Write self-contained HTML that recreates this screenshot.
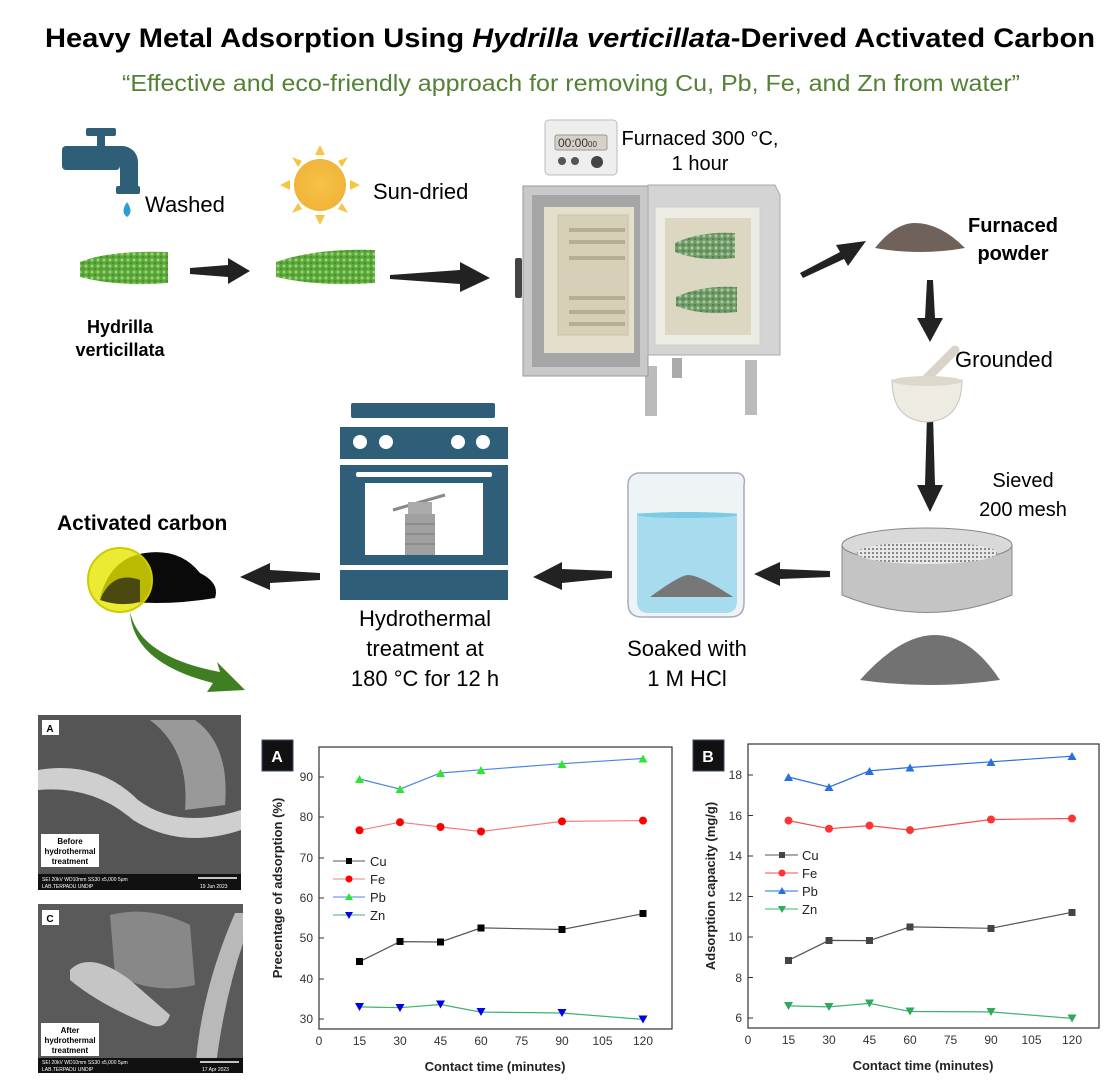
<!DOCTYPE html>
<html><head><meta charset="utf-8"><style>
html,body{margin:0;padding:0;background:#fff}
svg{display:block}
text{font-family:"Liberation Sans",Arial,sans-serif}
</style></head><body>
<svg width="1113" height="1084" viewBox="0 0 1113 1084" xmlns="http://www.w3.org/2000/svg">
<defs>
<pattern id="leaf" width="6" height="6" patternUnits="userSpaceOnUse"><rect width="6" height="6" fill="#5aa838"/><circle cx="2" cy="2" r="1.5" fill="#9bd37a"/><circle cx="5" cy="5" r="1" fill="#3e8a2a"/></pattern>
<pattern id="leaf2" width="6" height="6" patternUnits="userSpaceOnUse"><rect width="6" height="6" fill="#6f9a68"/><circle cx="2" cy="2" r="1.5" fill="#a9c9a0"/><circle cx="5" cy="5" r="1" fill="#4d7848"/></pattern>
<pattern id="mesh" width="4" height="4" patternUnits="userSpaceOnUse"><rect width="4" height="4" fill="#e8e8e8"/><rect width="2" height="2" fill="#888"/></pattern>
<radialGradient id="sun" cx="50%" cy="50%" r="50%"><stop offset="0" stop-color="#f6c347"/><stop offset="1" stop-color="#f0b43a"/></radialGradient>
</defs>

<!-- Title -->
<text x="45" y="47" font-size="27" font-weight="bold" textLength="1050" lengthAdjust="spacingAndGlyphs" fill="#000">Heavy Metal Adsorption Using <tspan font-style="italic">Hydrilla verticillata</tspan>-Derived Activated Carbon</text>
<text x="122" y="91" font-size="23" textLength="898" lengthAdjust="spacingAndGlyphs" fill="#538135">“Effective and eco-friendly approach for removing Cu, Pb, Fe, and Zn from water”</text>

<!-- Faucet -->
<g fill="#2f5f78">
<rect x="86" y="128" width="30" height="8" rx="2"/>
<rect x="97" y="134" width="8" height="14"/>
<rect x="62" y="146" width="58" height="24" rx="4"/>
<path d="M100 146 h22 a16 16 0 0 1 16 16 v26 h-18 v-22 h-20z"/>
<rect x="116" y="186" width="24" height="8" rx="2"/>
</g>
<path d="M127 202 q-7 10 0 15 q7 -5 0 -15z" fill="#2a9fd6"/>
<text x="145" y="212" font-size="22">Washed</text>

<!-- Sun -->
<g fill="#f5c543">
<circle cx="320" cy="185" r="26" fill="url(#sun)"/>
<polygon points="320,145 315,155 325,155"/><polygon points="320,225 315,215 325,215"/>
<polygon points="280,185 290,180 290,190"/><polygon points="360,185 350,180 350,190"/>
<polygon points="292,157 298,167 302,161"/><polygon points="348,157 338,161 342,167"/>
<polygon points="292,213 302,209 298,203"/><polygon points="348,213 342,203 338,209"/>
</g>
<text x="373" y="199" font-size="22">Sun-dried</text>

<!-- Hydrilla plants -->
<path d="M80 262 q30 -12 88 -10 v31 q-50 4 -88 -6z" fill="url(#leaf)"/>
<path d="M276 262 q40 -14 99 -12 v33 q-55 4 -99 -6z" fill="url(#leaf)"/>
<text x="120" y="333" font-size="18" font-weight="bold" text-anchor="middle">Hydrilla</text>
<text x="120" y="356" font-size="18" font-weight="bold" text-anchor="middle">verticillata</text>

<!-- Arrows top row -->
<polygon points="190,268 228,265 228,258 250,271 228,284 228,277 190,274" fill="#222"/>
<polygon points="390,275 460,270 460,262 490,278 460,292 460,284 390,279" fill="#222"/>
<polygon points="800,273 840,252 836,245 866,241 848,266 844,259 803,278" fill="#222"/>

<!-- Timer -->
<rect x="545" y="120" width="72" height="55" rx="4" fill="#eee" stroke="#bbb"/>
<rect x="555" y="135" width="52" height="15" rx="2" fill="#d6d2c8" stroke="#999"/>
<text x="558" y="147" font-size="12" fill="#333">00:00<tspan font-size="8">00</tspan></text>
<circle cx="562" cy="161" r="4" fill="#555"/><circle cx="575" cy="161" r="4" fill="#555"/><circle cx="597" cy="162" r="6" fill="#444"/>
<text x="700" y="145" font-size="20" text-anchor="middle">Furnaced 300 °C,</text>
<text x="700" y="170" font-size="20" text-anchor="middle">1 hour</text>

<!-- Furnace -->
<g>
<rect x="645" y="366" width="12" height="50" fill="#bbb"/><rect x="672" y="358" width="10" height="20" fill="#aaa"/>
<rect x="745" y="360" width="12" height="55" fill="#bbb"/>
<rect x="523" y="186" width="125" height="190" fill="#c9c9c9" stroke="#999"/>
<rect x="532" y="195" width="108" height="172" fill="#a6a6a6"/>
<rect x="544" y="207" width="90" height="146" fill="#e3dfcc"/>
<rect x="558" y="215" width="70" height="120" fill="#d6d0b8" stroke="#c9c2a6"/>
<g fill="#b5ae95"><rect x="569" y="228" width="56" height="4"/><rect x="569" y="240" width="56" height="4"/><rect x="569" y="256" width="56" height="4"/><rect x="569" y="296" width="56" height="4"/><rect x="569" y="310" width="56" height="4"/><rect x="569" y="322" width="56" height="4"/></g>
<rect x="515" y="258" width="7" height="40" rx="2" fill="#444"/>
<path d="M648 185 h127 l5 10 v160 h-132z" fill="#d4d4d4" stroke="#aaa"/>
<rect x="655" y="207" width="105" height="138" fill="#ecebe4" stroke="#ccc"/>
<rect x="665" y="218" width="86" height="117" fill="#dcd7c0"/>
<path d="M675 243 q25 -12 60 -10 v25 q-35 4 -60 -6z" fill="url(#leaf2)"/>
<path d="M676 297 q25 -12 61 -10 v25 q-35 4 -61 -6z" fill="url(#leaf2)"/>
</g>

<!-- Furnaced powder -->
<path d="M875 248 q20 -25 40 -25 q25 0 50 25 q-45 8 -90 0z" fill="#6f625a"/>
<text x="1013" y="232" font-size="20" font-weight="bold" text-anchor="middle">Furnaced</text>
<text x="1013" y="260" font-size="20" font-weight="bold" text-anchor="middle">powder</text>

<!-- down arrows -->
<polygon points="927,280 933,280 935,318 943,318 930,342 917,318 925,318" fill="#222"/>
<polygon points="927,415 933,415 935,485 943,485 930,512 917,485 925,485" fill="#222"/>

<!-- Mortar -->
<line x1="920" y1="385" x2="955" y2="350" stroke="#d8d4c8" stroke-width="9" stroke-linecap="round"/>
<path d="M892 380 h70 q0 40 -35 42 q-35 -2 -35 -42z" fill="#eeebe2" stroke="#c8c4b6"/>
<ellipse cx="927" cy="381" rx="35" ry="5" fill="#dcd8cc"/>
<text x="955" y="367" font-size="22">Grounded</text>

<!-- Sieved -->
<text x="1023" y="487" font-size="20" text-anchor="middle">Sieved</text>
<text x="1023" y="516" font-size="20" text-anchor="middle">200 mesh</text>
<path d="M842 545 v50 q85 35 170 0 v-50z" fill="#c4c4c4" stroke="#888"/>
<ellipse cx="927" cy="545" rx="85" ry="17" fill="#d9d9d9" stroke="#888"/>
<ellipse cx="927" cy="553" rx="70" ry="11" fill="url(#mesh)"/>
<path d="M860 680 q40 -45 75 -45 q35 0 65 45 q-70 10 -140 0z" fill="#727272"/>

<!-- Left arrows middle row -->
<polygon points="830,571 780,569 780,562 754,574 780,586 780,579 830,577" fill="#222"/>
<polygon points="612,571 562,569 562,562 533,577 562,590 562,583 612,578" fill="#222"/>
<polygon points="320,573 270,570 270,563 240,577 270,590 270,583 320,580" fill="#222"/>

<!-- Beaker -->
<path d="M628 485 q0 -10 10 -12 h100 q8 2 6 12 v118 q0 14 -14 14 h-88 q-14 0 -14 -14z" fill="#eef3f5" stroke="#aab" stroke-width="1.5"/>
<path d="M637 513 h100 v88 q0 12 -12 12 h-76 q-12 0 -12 -12z" fill="#a7dbee"/>
<ellipse cx="687" cy="515" rx="50" ry="3" fill="#7ccbe6"/>
<path d="M650 597 q30 -22 38 -22 q12 0 45 22z" fill="#777"/>
<text x="687" y="656" font-size="22" text-anchor="middle">Soaked with</text>
<text x="687" y="686" font-size="22" text-anchor="middle">1 M HCl</text>

<!-- Hydrothermal oven -->
<g fill="#2f5f78">
<rect x="351" y="403" width="144" height="15" rx="2"/>
<rect x="340" y="427" width="168" height="32"/>
<rect x="340" y="465" width="168" height="100"/>
<rect x="340" y="570" width="168" height="30"/>
</g>
<g fill="#fff"><circle cx="360" cy="442" r="7"/><circle cx="386" cy="442" r="7"/><circle cx="458" cy="442" r="7"/><circle cx="483" cy="442" r="7"/>
<rect x="356" y="472" width="136" height="5" rx="2"/><rect x="365" y="483" width="118" height="72"/></g>
<line x1="393" y1="510" x2="445" y2="495" stroke="#888" stroke-width="3"/>
<rect x="408" y="502" width="24" height="12" fill="#aaa"/>
<rect x="405" y="514" width="30" height="41" fill="#a0a0a0"/>
<g stroke="#777"><line x1="405" y1="524" x2="435" y2="524"/><line x1="405" y1="534" x2="435" y2="534"/><line x1="405" y1="544" x2="435" y2="544"/></g>
<text x="425" y="626" font-size="22" text-anchor="middle">Hydrothermal</text>
<text x="425" y="656" font-size="22" text-anchor="middle">treatment at</text>
<text x="425" y="686" font-size="22" text-anchor="middle">180 °C for 12 h</text>

<!-- Activated carbon -->
<text x="57" y="530" font-size="21" font-weight="bold">Activated carbon</text>
<path d="M100 598 q10 -40 45 -45 q35 -5 55 20 q20 10 15 25 q-60 10 -115 0z" fill="#0a0a0a"/>
<circle cx="120" cy="580" r="32" fill="#e6e600" fill-opacity="0.8" stroke="#cccc00" stroke-width="2"/>
<path d="M100 600 q12 -30 40 -20 v22 q-20 5 -40 -2z" fill="#4a4a10"/>
<path d="M130 612 q10 45 90 60 l-3 -10 l28 28 l-38 2 l6 -9 q-80 -20 -83 -71z" fill="#3f7f22"/>

<!-- SEM images -->
<rect x="38" y="715" width="203" height="175" fill="#555"/>
<path d="M38 770 q60 -10 100 30 q40 30 103 10 v20 q-60 20 -108 -10 q-40 -35 -95 -30z" fill="#cfcfcf"/>
<path d="M150 720 q40 30 35 90 l40 -5 q5 -60 -30 -85z" fill="#999"/>
<rect x="42" y="720" width="17" height="15" fill="#fff"/><text x="50" y="732" font-size="10" font-weight="bold" text-anchor="middle" font-family="Liberation Serif">A</text>
<rect x="41" y="834" width="58" height="33" fill="#fff"/>
<text x="70" y="844" font-size="8" text-anchor="middle" font-weight="bold" font-family="Liberation Serif">Before</text>
<text x="70" y="854" font-size="8" text-anchor="middle" font-weight="bold" font-family="Liberation Serif">hydrothermal</text>
<text x="70" y="864" font-size="8" text-anchor="middle" font-weight="bold" font-family="Liberation Serif">treatment</text>
<rect x="38" y="874" width="203" height="16" fill="#111"/>
<text x="42" y="881" font-size="5" fill="#fff">SEI   20kV   WD10mm   SS30        x5,000   5μm</text>
<text x="42" y="888" font-size="5" fill="#fff">LAB.TERPADU UNDIP</text><text x="200" y="888" font-size="5" fill="#fff">19 Jun 2023</text>
<line x1="198" y1="878" x2="237" y2="878" stroke="#fff" stroke-width="1.5"/>

<rect x="38" y="904" width="205" height="169" fill="#5a5a5a"/>
<path d="M110 915 q40 -10 80 10 l5 60 q-40 10 -80 -10z" fill="#888"/>
<path d="M70 970 q20 -20 60 10 l40 35 q-5 15 -20 10 q-50 -20 -80 -45z" fill="#c5c5c5"/>
<path d="M195 1073 q5 -80 40 -160 l8 0 v30 q-20 60 -28 130z" fill="#b9b9b9"/>
<rect x="42" y="910" width="17" height="15" fill="#fff"/><text x="50" y="922" font-size="10" font-weight="bold" text-anchor="middle" font-family="Liberation Serif">C</text>
<rect x="41" y="1023" width="58" height="33" fill="#fff"/>
<text x="70" y="1033" font-size="8" text-anchor="middle" font-weight="bold" font-family="Liberation Serif">After</text>
<text x="70" y="1043" font-size="8" text-anchor="middle" font-weight="bold" font-family="Liberation Serif">hydrothermal</text>
<text x="70" y="1053" font-size="8" text-anchor="middle" font-weight="bold" font-family="Liberation Serif">treatment</text>
<rect x="38" y="1058" width="205" height="15" fill="#111"/>
<text x="42" y="1064" font-size="5" fill="#fff">SEI   20kV   WD10mm   SS30        x5,000   5μm</text>
<text x="42" y="1071" font-size="5" fill="#fff">LAB.TERPADU UNDIP</text><text x="202" y="1071" font-size="5" fill="#fff">17 Apr 2023</text>
<line x1="200" y1="1062" x2="239" y2="1062" stroke="#fff" stroke-width="1.5"/>

<!-- Chart A -->
<g font-size="12" fill="#333">
<rect x="319" y="747" width="353" height="282" fill="none" stroke="#333" stroke-width="1.2"/>
<rect x="262" y="740" width="31" height="31" fill="#111" stroke="#3a4a6a"/>
<text x="277" y="762" fill="#fff" font-size="16" font-weight="bold" text-anchor="middle" font-family="Liberation Serif">A</text>
<g text-anchor="end">
<text x="313" y="1023">30</text><text x="313" y="983">40</text><text x="313" y="942">50</text><text x="313" y="902">60</text><text x="313" y="862">70</text><text x="313" y="821">80</text><text x="313" y="781">90</text>
</g>
<g stroke="#333"><line x1="319" y1="1019" x2="324" y2="1019"/><line x1="319" y1="979" x2="324" y2="979"/><line x1="319" y1="938" x2="324" y2="938"/><line x1="319" y1="898" x2="324" y2="898"/><line x1="319" y1="858" x2="324" y2="858"/><line x1="319" y1="817" x2="324" y2="817"/><line x1="319" y1="777" x2="324" y2="777"/></g>
<g text-anchor="middle">
<text x="319" y="1045">0</text><text x="359.5" y="1045">15</text><text x="400" y="1045">30</text><text x="440.5" y="1045">45</text><text x="481" y="1045">60</text><text x="521.5" y="1045">75</text><text x="562" y="1045">90</text><text x="602.5" y="1045">105</text><text x="643" y="1045">120</text>
</g>
<text x="495" y="1071" font-size="13" font-weight="bold" text-anchor="middle" fill="#222">Contact time (minutes)</text>
<text transform="translate(282,888) rotate(-90)" font-size="13" font-weight="bold" text-anchor="middle" fill="#222">Precentage of adsorption (%)</text>
</g>
<polyline points="359.5,961.7 400,941.6 440.5,942 481,927.9 562,929.5 643,913.7" fill="none" stroke="#555" stroke-width="1.2"/>
<polyline points="359.5,830.3 400,822.2 440.5,827 481,831.5 562,821.4 643,820.6" fill="none" stroke="#f08080" stroke-width="1.2"/>
<polyline points="359.5,779 400,789.1 440.5,773 481,769.8 562,763.7 643,758.5" fill="none" stroke="#4a86e8" stroke-width="1.2"/>
<polyline points="359.5,1006.9 400,1007.7 440.5,1004.5 481,1012.1 562,1013 643,1019.4" fill="none" stroke="#3cb371" stroke-width="1.2"/>
<g fill="#000"><rect x="356" y="958" width="7" height="7"/><rect x="396.5" y="938" width="7" height="7"/><rect x="437" y="938.5" width="7" height="7"/><rect x="477.5" y="924.5" width="7" height="7"/><rect x="558.5" y="926" width="7" height="7"/><rect x="639.5" y="910" width="7" height="7"/></g>
<g fill="#f00"><circle cx="359.5" cy="830.3" r="4"/><circle cx="400" cy="822.2" r="4"/><circle cx="440.5" cy="827" r="4"/><circle cx="481" cy="831.5" r="4"/><circle cx="562" cy="821.4" r="4"/><circle cx="643" cy="820.6" r="4"/></g>
<g fill="#2ee62e"><polygon points="359.5,775 355,783 364,783"/><polygon points="400,785 395.5,793 404.5,793"/><polygon points="440.5,769 436,777 445,777"/><polygon points="481,766 476.5,774 485.5,774"/><polygon points="562,760 557.5,768 566.5,768"/><polygon points="643,754.5 638.5,762.5 647.5,762.5"/></g>
<g fill="#0000ee"><polygon points="355,1003 364,1003 359.5,1011"/><polygon points="395.5,1004 404.5,1004 400,1012"/><polygon points="436,1000.5 445,1000.5 440.5,1008.5"/><polygon points="476.5,1008 485.5,1008 481,1016"/><polygon points="557.5,1009 566.5,1009 562,1017"/><polygon points="638.5,1015.5 647.5,1015.5 643,1023.5"/></g>
<g font-size="13" fill="#222">
<line x1="333" y1="861" x2="365" y2="861" stroke="#555"/><rect x="346" y="858" width="6" height="6" fill="#000"/><text x="370" y="866">Cu</text>
<line x1="333" y1="879" x2="365" y2="879" stroke="#f08080"/><circle cx="349" cy="879" r="3.5" fill="#f00"/><text x="370" y="884">Fe</text>
<line x1="333" y1="897" x2="365" y2="897" stroke="#4a86e8"/><polygon points="349,893 345,900 353,900" fill="#2ee62e"/><text x="370" y="902">Pb</text>
<line x1="333" y1="915" x2="365" y2="915" stroke="#3cb371"/><polygon points="345,912 353,912 349,919" fill="#0000ee"/><text x="370" y="920">Zn</text>
</g>

<!-- Chart B -->
<g font-size="12" fill="#333">
<rect x="748" y="744" width="351" height="284" fill="none" stroke="#333" stroke-width="1.2"/>
<rect x="693" y="740" width="31" height="31" fill="#111" stroke="#3a4a6a"/>
<text x="708" y="762" fill="#fff" font-size="16" font-weight="bold" text-anchor="middle" font-family="Liberation Serif">B</text>
<g text-anchor="end">
<text x="742" y="1022">6</text><text x="742" y="982">8</text><text x="742" y="941">10</text><text x="742" y="901">12</text><text x="742" y="860">14</text><text x="742" y="820">16</text><text x="742" y="779">18</text>
</g>
<g stroke="#333"><line x1="748" y1="1018" x2="753" y2="1018"/><line x1="748" y1="977.5" x2="753" y2="977.5"/><line x1="748" y1="937" x2="753" y2="937"/><line x1="748" y1="896.5" x2="753" y2="896.5"/><line x1="748" y1="856" x2="753" y2="856"/><line x1="748" y1="815.5" x2="753" y2="815.5"/><line x1="748" y1="775" x2="753" y2="775"/></g>
<g text-anchor="middle">
<text x="748" y="1044">0</text><text x="788.5" y="1044">15</text><text x="829" y="1044">30</text><text x="869.5" y="1044">45</text><text x="910" y="1044">60</text><text x="950.5" y="1044">75</text><text x="991" y="1044">90</text><text x="1031.5" y="1044">105</text><text x="1072" y="1044">120</text>
</g>
<text x="923" y="1070" font-size="13" font-weight="bold" text-anchor="middle" fill="#222">Contact time (minutes)</text>
<text transform="translate(715,886) rotate(-90)" font-size="13" font-weight="bold" text-anchor="middle" fill="#222">Adsorption capacity (mg/g)</text>
</g>
<polyline points="788.5,960.3 829,940.4 869.5,940.6 910,926.9 991,928.3 1072,912.3" fill="none" stroke="#555" stroke-width="1.2"/>
<polyline points="788.5,820.6 829,828.7 869.5,825.6 910,830.1 991,819.5 1072,818.5" fill="none" stroke="#f05050" stroke-width="1.2"/>
<polyline points="788.5,777 829,787.1 869.5,770.9 910,767.5 991,761.8 1072,756.2" fill="none" stroke="#2a6fe0" stroke-width="1.2"/>
<polyline points="788.5,1005.9 829,1006.9 869.5,1003.4 910,1011.5 991,1011.9 1072,1018.4" fill="none" stroke="#3cb371" stroke-width="1.2"/>
<g fill="#444"><rect x="785" y="957" width="7" height="7"/><rect x="825.5" y="937" width="7" height="7"/><rect x="866" y="937" width="7" height="7"/><rect x="906.5" y="923.5" width="7" height="7"/><rect x="987.5" y="925" width="7" height="7"/><rect x="1068.5" y="909" width="7" height="7"/></g>
<g fill="#f33"><circle cx="788.5" cy="820.6" r="4"/><circle cx="829" cy="828.7" r="4"/><circle cx="869.5" cy="825.6" r="4"/><circle cx="910" cy="830.1" r="4"/><circle cx="991" cy="819.5" r="4"/><circle cx="1072" cy="818.5" r="4"/></g>
<g fill="#2a6fe0"><polygon points="788.5,773 784,781 793,781"/><polygon points="829,783 824.5,791 833.5,791"/><polygon points="869.5,767 865,775 874,775"/><polygon points="910,763.5 905.5,771.5 914.5,771.5"/><polygon points="991,758 986.5,766 995.5,766"/><polygon points="1072,752 1067.5,760 1076.5,760"/></g>
<g fill="#2eaa5a"><polygon points="784,1002 793,1002 788.5,1010"/><polygon points="824.5,1003 833.5,1003 829,1011"/><polygon points="865,999.5 874,999.5 869.5,1007.5"/><polygon points="905.5,1007.5 914.5,1007.5 910,1015.5"/><polygon points="986.5,1008 995.5,1008 991,1016"/><polygon points="1067.5,1014.5 1076.5,1014.5 1072,1022.5"/></g>
<g font-size="13" fill="#222">
<line x1="765" y1="855" x2="798" y2="855" stroke="#555"/><rect x="779" y="852" width="6" height="6" fill="#444"/><text x="802" y="860">Cu</text>
<line x1="765" y1="873" x2="798" y2="873" stroke="#f05050"/><circle cx="782" cy="873" r="3.5" fill="#f33"/><text x="802" y="878">Fe</text>
<line x1="765" y1="891" x2="798" y2="891" stroke="#2a6fe0"/><polygon points="782,887 778,894 786,894" fill="#2a6fe0"/><text x="802" y="896">Pb</text>
<line x1="765" y1="909" x2="798" y2="909" stroke="#3cb371"/><polygon points="778,906 786,906 782,913" fill="#2eaa5a"/><text x="802" y="914">Zn</text>
</g>
</svg>
</body></html>
